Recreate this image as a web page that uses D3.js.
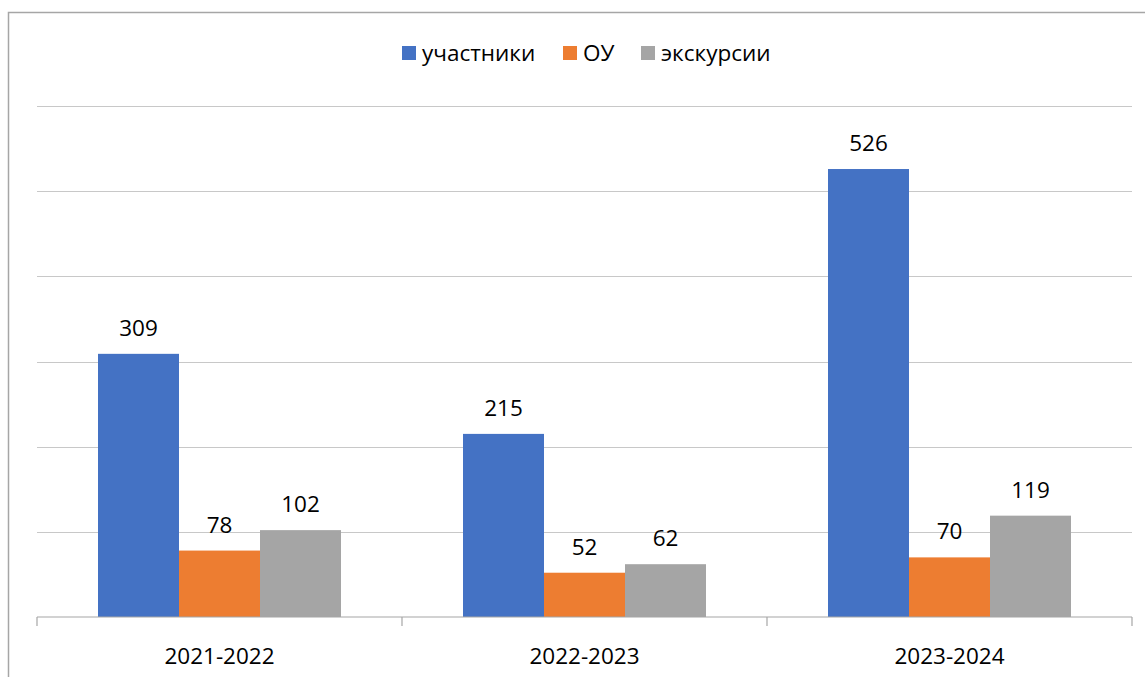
<!DOCTYPE html>
<html><head><meta charset="utf-8">
<script src="https://cdn.jsdelivr.net/npm/d3@7"></script>
<style>body{margin:0;background:#fff}svg{display:block}</style>
</head><body>
<script>
const categories = ["2021-2022", "2022-2023", "2023-2024"];
const seriesNames = ["участники", "ОУ", "экскурсии"];
const uchastniki = [309, 215, 526];
const ou = [78, 52, 70];
const ekskursii = [102, 62, 119];
const yTicks = [0, 100, 200, 300, 400, 500, 600];
const colors = ["#4472C4", "#ED7D31", "#A5A5A5"];

const seriesValues = [uchastniki, ou, ekskursii];
const W = 1145, H = 677;
const font = "'Open Sans', 'Noto Sans', sans-serif";
const fs = 22.5;
const svg = d3.select("body").append("svg").attr("width", W).attr("height", H);

// outer border
svg.append("path").attr("d", `M8.5,${H} V12.5 H${W}`).attr("fill", "none").attr("stroke", "#A6A6A6").attr("stroke-width", 1.5);

const mLeft = 37, mRight = 1132, mTop = 106, mBottom = 617;
const x = d3.scaleBand().domain(categories).range([mLeft, mRight]).paddingInner(0).paddingOuter(0);
const y = d3.scaleLinear().domain([0, 600]).range([mBottom, mTop]);
const groupW = 243;
const xs = d3.scaleBand().domain(seriesNames).range([0, groupW]);

// gridlines
svg.append("g").selectAll("line").data(yTicks.filter(t => t > 0)).join("line")
  .attr("x1", mLeft).attr("x2", mRight)
  .attr("y1", d => Math.round(y(d)) + 0.5).attr("y2", d => Math.round(y(d)) + 0.5)
  .attr("stroke", "#C8C8C8").attr("stroke-width", 1.2);

// bars
const g = svg.append("g");
categories.forEach((c, ci) => {
  const gx = x(c) + (x.bandwidth() - groupW) / 2;
  seriesNames.forEach((s, si) => {
    const v = seriesValues[si][ci];
    g.append("rect").attr("x", gx + xs(s)).attr("y", y(v)).attr("width", xs.bandwidth()).attr("height", mBottom - y(v)).attr("fill", colors[si]);
    g.append("text").attr("x", gx + xs(s) + xs.bandwidth() / 2).attr("y", y(v) - 18)
      .attr("text-anchor", "middle").attr("font-family", font).attr("font-size", fs).attr("fill", "#000").text(v);
  });
});

// x axis
const ax = svg.append("g").attr("transform", `translate(0,${mBottom})`)
  .call(d3.axisBottom(x).tickSize(0).tickPadding(31));
ax.select(".domain").attr("stroke", "#A6A6A6").attr("stroke-width", 1.2).attr("d", `M${mLeft},0H${mRight}`);
ax.selectAll("text").attr("font-family", font).attr("font-size", fs).attr("fill", "#000");
const bounds = [mLeft, ...categories.map(c => x(c) + x.bandwidth())];
svg.append("g").selectAll("line").data(bounds).join("line")
  .attr("x1", d => d).attr("x2", d => d).attr("y1", mBottom).attr("y2", mBottom + 9)
  .attr("stroke", "#A6A6A6").attr("stroke-width", 1.2);

// legend
const legendX = [402, 563, 641];
const lg = svg.append("g");
seriesNames.forEach((s, i) => {
  lg.append("rect").attr("x", legendX[i]).attr("y", 46).attr("width", 14).attr("height", 14).attr("fill", colors[i]);
  lg.append("text").attr("x", legendX[i] + 20).attr("y", 61).attr("font-family", font).attr("font-size", fs).attr("fill", "#000").text(s);
});
</script>
</body></html>
